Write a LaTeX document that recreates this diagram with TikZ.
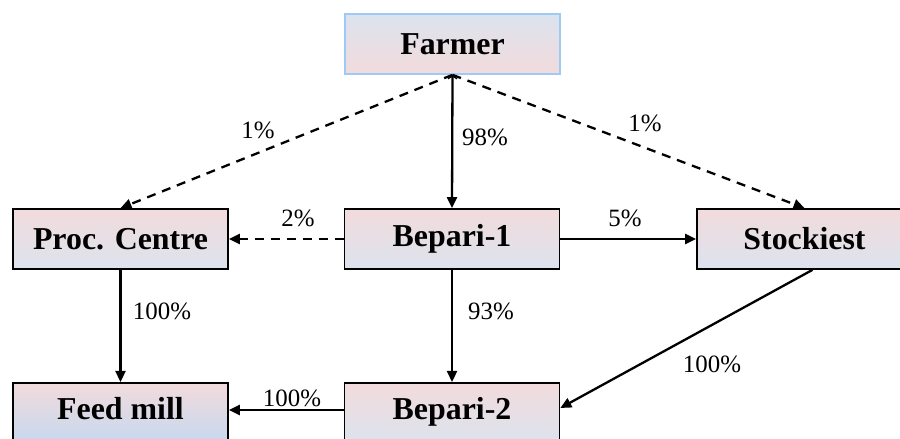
\documentclass[tikz,border=0pt]{standalone}
\usepackage{fontspec}
\setmainfont{Liberation Serif}
\usetikzlibrary{arrows.meta,shadings}
\definecolor{pinkish}{HTML}{F2DBDC}
\definecolor{bluish}{HTML}{DCE3EE}
\definecolor{bluedeep}{HTML}{C6D8EF}
\definecolor{farmerline}{HTML}{9DCBF7}
\tikzset{
  stage/.style={draw=black, line width=1.7bp, minimum width=215bp, minimum height=60bp,
    inner sep=0pt, top color=pinkish, bottom color=bluish,
    font=\fontsize{32}{36}\selectfont\bfseries},
  flow/.style={line width=2.3bp, -{Triangle[length=11bp,width=10bp]}},
  minor/.style={flow, dash pattern=on 9bp off 7bp},
  share/.style={font=\fontsize{25}{30}\selectfont, inner sep=0pt}
}
\begin{document}
\begin{tikzpicture}[x=1bp,y=-1bp]
\useasboundingbox (0,0) rectangle (900,439);
\clip (0,0) rectangle (900,439);
% stages of the chain
\node[stage, draw=farmerline, top color=bluish, bottom color=pinkish] (farmer) at (452.5,44) {Farmer};
\node[stage] (proc) at (120.5,239) {Proc. Centre};
\node[stage] (bep1) at (452,239) {Bepari-1};
\node[stage] (stock) at (804.5,239) {Stockiest};
\node[stage, bottom color=bluedeep, anchor=north] (feed) at (120.5,382) {\raisebox{9bp}{Feed mill}};
\node[stage, anchor=north] (bep2) at (452,382) {\raisebox{9bp}{Bepari-2}};
% flows between stages
\draw[flow, {Straight Barb[length=3bp,width=9bp,line width=1.5bp]}-{Triangle[length=11bp,width=10bp]}] (farmer.south) -- (bep1.north);
\draw[minor] (farmer.south) -- (proc.north);
\draw[minor] (farmer.south) -- (stock.north);
\draw[minor] (bep1.west) -- (proc.east);
\draw[flow] (bep1.east) -- (stock.west);
\draw[flow] (bep1.south) -- (bep2.north);
\draw[flow] (proc.south) -- (feed.north);
\draw[flow] (bep2.west |- 0,410) -- (feed.east |- 0,410);
\draw[flow] ([xshift=8bp]stock.south) -- (bep2.east |- 0,408);
% shares
\node[share] (l98) at (485,137) {98\%};
\node[share] (l1a) at (258,130) {1\%};
\node[share] (l1b) at (645,123) {1\%};
\node[share] (l2) at (298,218) {2\%};
\node[share] (l5) at (625,218) {5\%};
\node[share] (l93) at (491,311) {93\%};
\node[share] (l100a) at (162,311) {100\%};
\node[share] (l100b) at (292,398) {100\%};
\node[share] (l100c) at (712,364) {100\%};
\end{tikzpicture}
\end{document}
